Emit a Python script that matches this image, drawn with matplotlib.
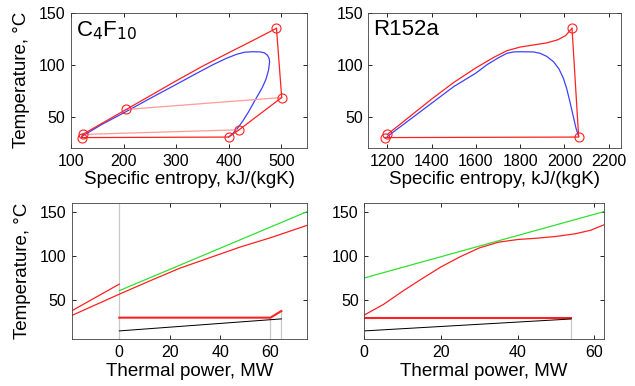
import numpy as np
import matplotlib
matplotlib.use("Agg")
import matplotlib.pyplot as plt

plt.rcParams['font.family'] = ['Liberation Sans', 'DejaVu Sans']

# ---- C4F10, T-s diagram
c4_dome_s = [120, 160, 205, 250, 300, 340, 370, 395, 415, 430, 445, 460, 468, 474, 477,
             478, 476, 471, 464, 456, 447, 437, 427, 417, 408, 400]
c4_dome_t = [31, 43, 55, 67.5, 81, 92, 100, 106, 110, 112, 112.5, 112.3, 111.5, 109, 106,
             103, 95, 86, 78, 71, 63, 54, 46, 39, 34, 30.5]
c4_heat_s = [122, 160, 205, 250, 300, 350, 400, 445, 491]
c4_heat_t = [33, 44, 57, 70, 84.5, 98.5, 111.5, 123, 135]
c4_cycle_s = [491, 501, 420, 400, 120, 122]   # expansion, recuperator hot side, condenser, pump
c4_cycle_t = [135, 68.5, 37.5, 30.5, 30, 33]
c4_recup_s = [[205, 501], [122, 420]]
c4_recup_t = [[57, 68.5], [33, 37.5]]
c4_pts_s = [120, 122, 205, 400, 420, 491, 501]
c4_pts_t = [30, 33, 57, 30.5, 37.5, 135, 68.5]

# ---- R152a, T-s diagram
r1_dome_s = [1200, 1300, 1400, 1500, 1600, 1650, 1700, 1740, 1770, 1800, 1860, 1890, 1920,
             1950, 1975, 1995, 2010, 2025, 2040, 2052, 2064]
r1_dome_t = [31, 47, 63, 79, 92, 100, 106.5, 111, 112.3, 112.5, 112.3, 111, 108,
             103, 96, 87, 77, 64, 50, 39, 31]
r1_heat_s = [1200, 1300, 1400, 1500, 1600, 1680, 1740, 1800, 1860, 1920, 1970, 2005, 2034]
r1_heat_t = [33, 50, 67, 83, 97, 107, 113.5, 117, 119, 121, 124, 128, 135]
r1_cycle_s = [2034, 2064, 1190]
r1_cycle_t = [135, 30.5, 30]
r1_pts_s = [1190, 1200, 2034, 2064]
r1_pts_t = [30, 33, 135, 30.5]

# ---- C4F10, T-Q diagram (MW, degC)
c4_hot_q = [-18.9, 0]
c4_hot_t = [37.7, 68]
c4_wf_q = [-18.9, 0, 12, 24, 36, 48, 60, 74.5]
c4_wf_t = [32.4, 56.6, 71.5, 86, 98, 110, 120.5, 134.5]
c4_src_q = [0, 74.5]
c4_src_t = [60.6, 150]
c4_cond_q = [0, 60, 64.3]
c4_cond_t = [30, 30, 37.5]
c4_cw_q = [0, 64.3]
c4_cw_t = [15, 28.6]
c4_mark_q = [0, 60, 64.3]
c4_mark_top = [160, 30, 37.5]

# ---- R152a, T-Q diagram
r1_wf_q = [0, 5, 10, 15, 20, 25, 30, 35, 40, 45, 50, 55, 59, 62.4]
r1_wf_t = [33, 45, 60, 74, 87.5, 99, 109, 115.5, 118.5, 120, 122, 125, 129, 135]
r1_src_q = [0, 62.4]
r1_src_t = [75, 150]
r1_cond_q = [0, 53.9]
r1_cond_t = [30, 30]
r1_cw_q = [0, 53.9]
r1_cw_t = [15, 28.5]
r1_mark_q = [53.9]
r1_mark_top = [30]

red = '#ff2020'
pink = '#ff9a9a'
gray = '#c8c8c8'
lw = 0.9


def style(ax):
    ax.tick_params(direction='in', top=True, right=True, length=3,
                   labelsize=11.5, width=0.6, pad=4)
    for s in ax.spines.values():
        s.set_linewidth(0.6)
        s.set_color('#404040')


fig = plt.figure(figsize=(6.35, 3.86), dpi=100)
ax1 = fig.add_axes([0.1118, 0.6166, 0.3724, 0.3505])
ax2 = fig.add_axes([0.5803, 0.6166, 0.3976, 0.3505])
ax3 = fig.add_axes([0.1129, 0.1210, 0.3706, 0.3523])
ax4 = fig.add_axes([0.5737, 0.1210, 0.3770, 0.3523])

# T-s C4F10
ax1.plot(c4_dome_s, c4_dome_t, color='#4040ff', lw=lw)
for s, t in zip(c4_recup_s, c4_recup_t):
    ax1.plot(s, t, color=pink, lw=lw)
ax1.plot(c4_heat_s, c4_heat_t, color=red, lw=lw)
ax1.plot(c4_cycle_s, c4_cycle_t, color=red, lw=lw)
ax1.plot(c4_pts_s, c4_pts_t, 'o', ms=6.5, mfc='none', mec=red, mew=0.8)
ax1.set_xlim(100, 550)
ax1.set_ylim(20, 150)
ax1.set_xticks([100, 200, 300, 400, 500])
ax1.set_yticks([50, 100, 150])
ax1.set_xlabel('Specific entropy, kJ/(kgK)', fontsize=13.5, labelpad=2)
ax1.set_ylabel('Temperature, °C', fontsize=13.5, labelpad=6)
ax1.text(0.02, 0.95, r'C$_4$F$_{10}$', transform=ax1.transAxes, fontsize=16,
         va='top', ha='left')

# T-s R152a
ax2.plot(r1_dome_s, r1_dome_t, color='#4040ff', lw=lw)
ax2.plot(r1_heat_s, r1_heat_t, color=red, lw=lw)
ax2.plot(r1_cycle_s, r1_cycle_t, color=red, lw=lw)
ax2.plot(r1_pts_s, r1_pts_t, 'o', ms=6.5, mfc='none', mec=red, mew=0.8)
ax2.set_xlim(1115, 2255)
ax2.set_ylim(20, 150)
ax2.set_xticks([1200, 1400, 1600, 1800, 2000, 2200])
ax2.set_yticks([50, 100, 150])
ax2.set_xlabel('Specific entropy, kJ/(kgK)', fontsize=13.5, labelpad=2)
ax2.text(0.02, 0.95, 'R152a', transform=ax2.transAxes, fontsize=16,
         va='top', ha='left')

# T-Q C4F10
for q, top in zip(c4_mark_q, c4_mark_top):
    ax3.plot([q, q], [0, top], color=gray, lw=lw)
ax3.plot(c4_src_q, c4_src_t, color='#30e030', lw=lw)
ax3.plot(c4_hot_q, c4_hot_t, color=red, lw=lw)
ax3.plot(c4_wf_q, c4_wf_t, color=red, lw=lw)
ax3.plot(c4_cond_q, c4_cond_t, color=red, lw=1.5)
ax3.plot(c4_cw_q, c4_cw_t, color='k', lw=lw * 0.8)
ax3.set_xlim(-18.9, 74.5)
ax3.set_ylim(5.5, 159.5)
ax3.set_xticks([0, 20, 40, 60])
ax3.set_yticks([50, 100, 150])
ax3.set_xlabel('Thermal power, MW', fontsize=13.5, labelpad=2)
ax3.set_ylabel('Temperature, °C', fontsize=13.5, labelpad=6)

# T-Q R152a
for q, top in zip(r1_mark_q, r1_mark_top):
    ax4.plot([q, q], [0, top], color=gray, lw=lw)
ax4.plot(r1_src_q, r1_src_t, color='#30e030', lw=lw)
ax4.plot(r1_wf_q, r1_wf_t, color=red, lw=lw)
ax4.plot(r1_cond_q, r1_cond_t, color=red, lw=1.5)
ax4.plot(r1_cw_q, r1_cw_t, color='k', lw=lw * 0.8)
ax4.set_xlim(0, 62.4)
ax4.set_ylim(5.5, 159.5)
ax4.set_xticks([0, 20, 40, 60])
ax4.set_yticks([50, 100, 150])
ax4.set_xlabel('Thermal power, MW', fontsize=13.5, labelpad=2)

for ax in (ax1, ax2, ax3, ax4):
    style(ax)

fig.savefig('out.png', dpi=100)
